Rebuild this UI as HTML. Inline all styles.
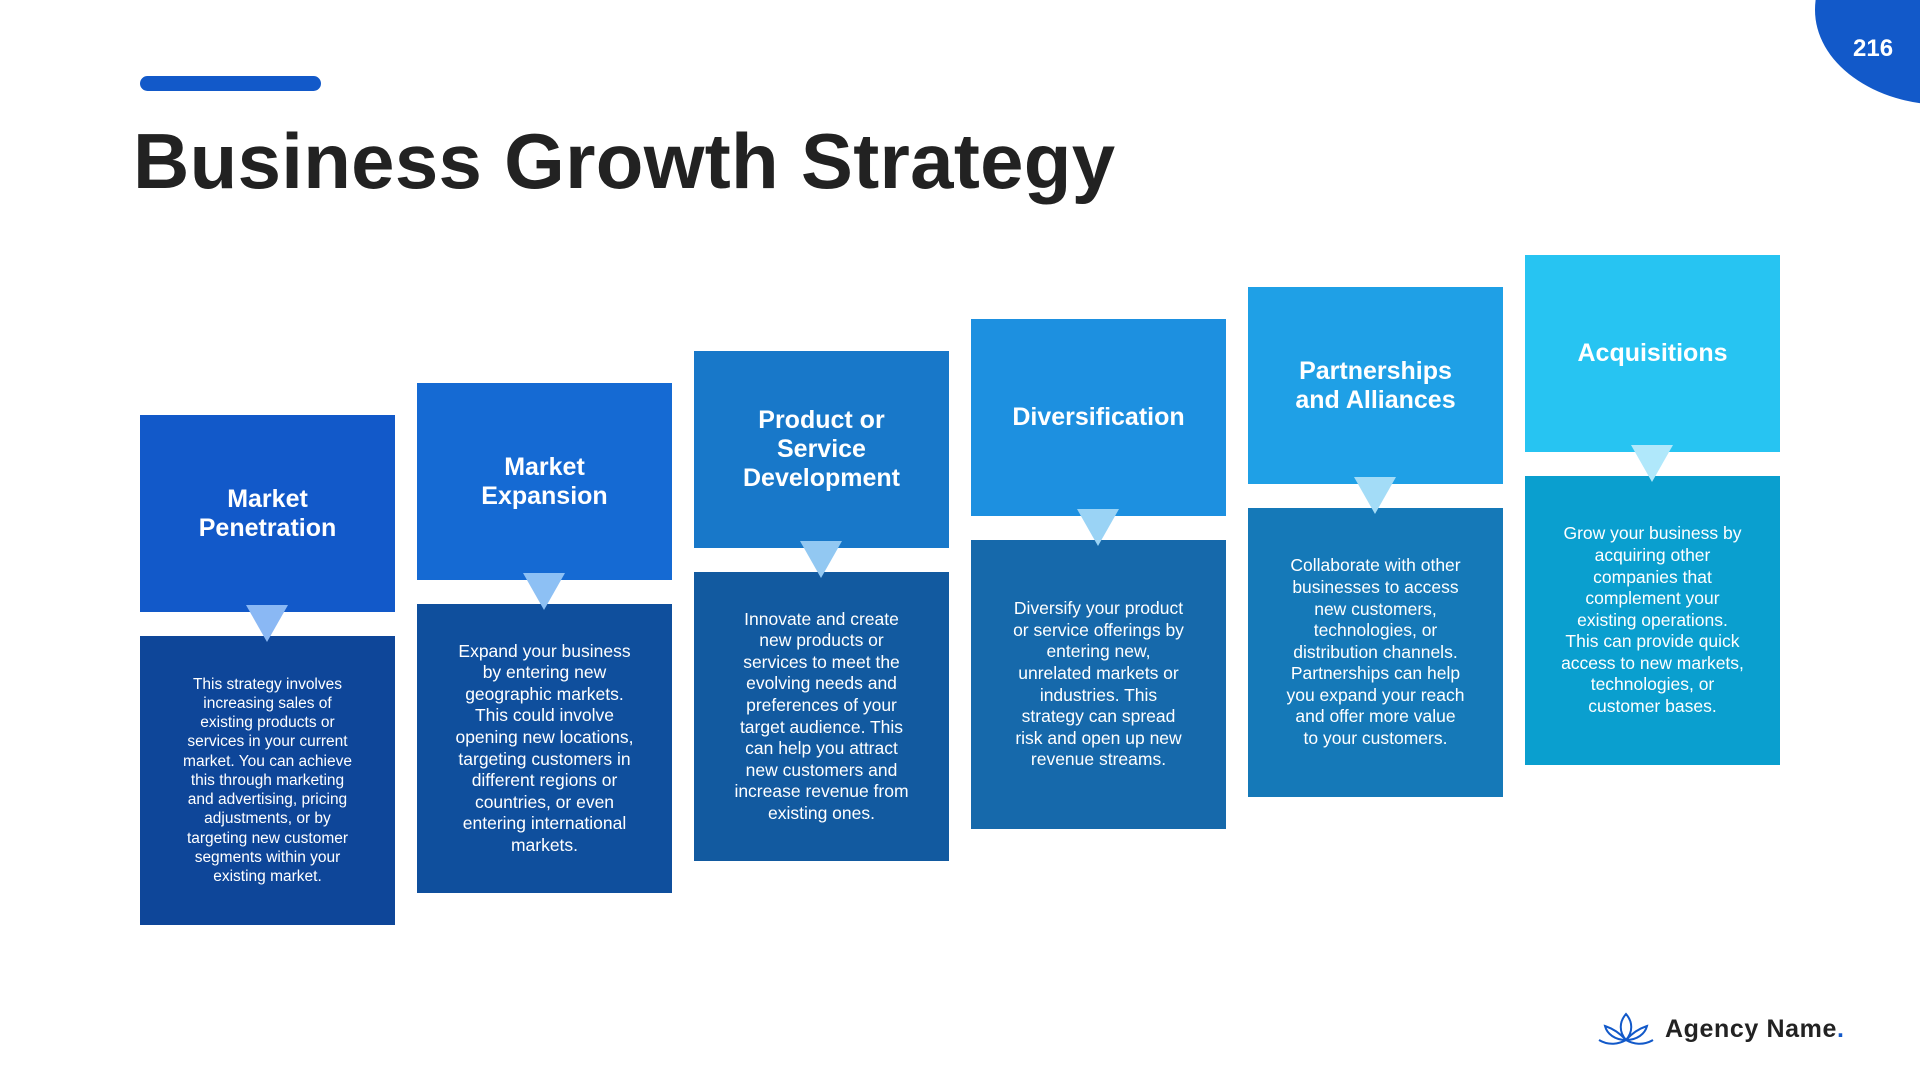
<!DOCTYPE html>
<html><head><meta charset="utf-8"><style>
body{margin:0;width:1920px;height:1080px;background:#fff;position:relative;overflow:hidden;font-family:"Liberation Sans",sans-serif}
.h,.b{position:absolute;width:255px;display:flex;align-items:center;justify-content:center;text-align:center;color:#fff}
.h{height:197px;font-weight:bold;font-size:25px;line-height:29px}
.b{height:289px;font-size:17.5px;line-height:21.6px}
.t{position:absolute;width:0;height:0;border-left:21px solid transparent;border-right:21px solid transparent;border-top:37px solid #8ab8f4;z-index:2}
</style></head><body>
<div style="position:absolute;left:140px;top:76px;width:181px;height:15px;border-radius:8px;background:#1259c9"></div>
<div style="position:absolute;left:133px;top:116px;font-size:78px;font-weight:bold;color:#222;letter-spacing:0.3px">Business Growth Strategy</div>
<div style="position:absolute;left:1815px;top:-60px;width:200px;height:165px;background:#1259c9;border-radius:60px 0 0 130px / 70px 0 0 95px"></div>
<div style="position:absolute;left:1853px;top:35px;color:#fff;font-weight:bold;font-size:24px">216</div>

<div class="h" style="left:140px;top:415px;background:#1259c9">Market<br>Penetration</div>
<div class="t" style="left:246px;top:605px;border-top-color:#8ab8f4"></div>
<div class="b" style="left:140px;top:636px;background:#0e4699;font-size:15.5px;line-height:19.2px">This strategy involves<br>increasing sales of<br>existing products or<br>services in your current<br>market. You can achieve<br>this through marketing<br>and advertising, pricing<br>adjustments, or by<br>targeting new customer<br>segments within your<br>existing market.</div>

<div class="h" style="left:417px;top:383px;background:#156ad3">Market<br>Expansion</div>
<div class="t" style="left:523px;top:573px;border-top-color:#8dc0f4"></div>
<div class="b" style="left:417px;top:604px;background:#0f4f9d">Expand your business<br>by entering new<br>geographic markets.<br>This could involve<br>opening new locations,<br>targeting customers in<br>different regions or<br>countries, or even<br>entering international<br>markets.</div>

<div class="h" style="left:694px;top:351px;background:#1878c9">Product or<br>Service<br>Development</div>
<div class="t" style="left:800px;top:541px;border-top-color:#92c8f2"></div>
<div class="b" style="left:694px;top:572px;background:#125aa0">Innovate and create<br>new products or<br>services to meet the<br>evolving needs and<br>preferences of your<br>target audience. This<br>can help you attract<br>new customers and<br>increase revenue from<br>existing ones.</div>

<div class="h" style="left:971px;top:319px;background:#1d90e0">Diversification</div>
<div class="t" style="left:1077px;top:509px;border-top-color:#9ad3f5"></div>
<div class="b" style="left:971px;top:540px;background:#1669ab">Diversify your product<br>or service offerings by<br>entering new,<br>unrelated markets or<br>industries. This<br>strategy can spread<br>risk and open up new<br>revenue streams.</div>

<div class="h" style="left:1248px;top:287px;background:#1fa0e6">Partnerships<br>and Alliances</div>
<div class="t" style="left:1354px;top:477px;border-top-color:#a3dcf7"></div>
<div class="b" style="left:1248px;top:508px;background:#1579b8">Collaborate with other<br>businesses to access<br>new customers,<br>technologies, or<br>distribution channels.<br>Partnerships can help<br>you expand your reach<br>and offer more value<br>to your customers.</div>

<div class="h" style="left:1525px;top:255px;background:#27c4f2">Acquisitions</div>
<div class="t" style="left:1631px;top:445px;border-top-color:#b0e8fb"></div>
<div class="b" style="left:1525px;top:476px;background:#0a9fcf">Grow your business by<br>acquiring other<br>companies that<br>complement your<br>existing operations.<br>This can provide quick<br>access to new markets,<br>technologies, or<br>customer bases.</div>

<svg style="position:absolute;left:1597px;top:1010px" width="58" height="38" viewBox="0 0 58 38" fill="none" stroke="#1259c9" stroke-width="2">
<path d="M29 4 C22 12 22 22 29 30 C36 22 36 12 29 4Z"/>
<path d="M29 30 C22 22 14 18 8 16 C10 24 18 30 29 30Z"/>
<path d="M29 30 C36 22 44 18 50 16 C48 24 40 30 29 30Z"/>
<path d="M2 30 C12 36 22 34 29 30 C36 34 46 36 56 30"/>
</svg>
<div style="position:absolute;left:1665px;top:1015px;font-size:25px;font-weight:bold;color:#222;letter-spacing:0.6px">Agency Name<span style="color:#1259c9">.</span></div>
</body></html>
